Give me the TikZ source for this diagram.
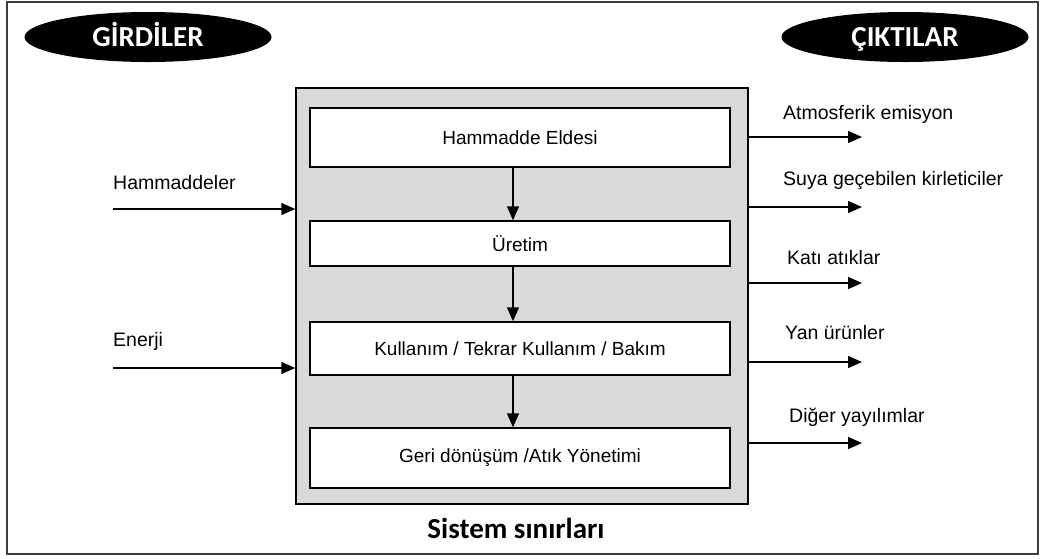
\documentclass[tikz,border=0pt]{standalone}
\usepackage{fontspec}
\setmainfont{Liberation Sans}
\newfontfamily\headfont{Carlito}
\usetikzlibrary{shapes.geometric,arrows.meta}
\definecolor{sysgray}{RGB}{217,217,217}
\definecolor{framegray}{RGB}{60,60,60}
\tikzset{
  stagebox/.style={draw, line width=1.5pt, fill=white, minimum width=420pt, inner sep=0pt,
    font=\fontsize{19}{22}\selectfont},
  flow/.style={line width=1.5pt, -{Triangle[length=14pt,width=12pt]}},
  tag/.style={anchor=west, inner sep=0pt, font=\fontsize{19.5}{22}\selectfont},
  header/.style={ellipse, fill=black, minimum width=247pt, minimum height=50pt, inner sep=0pt,
    text height=18.7pt, text depth=0pt,
    text=white, font=\headfont\bfseries\fontsize{29}{32}\selectfont}
}
\begin{document}
\begin{tikzpicture}[x=1pt,y=-1pt]
\useasboundingbox (0,0) rectangle (1049,558);
\draw[framegray, line width=2pt] (7,2) rectangle (1038,554);
% system boundary
\node[draw, line width=1.5pt, fill=sysgray, minimum width=452pt, minimum height=416pt, inner sep=0pt]
    (sys) at (522,296) {};
\node[header] (gir) at (148,37) {GİRDİLER};
\node[header] (cik) at (905,37) {ÇIKTILAR};
% stages
\node[stagebox, minimum height=59pt] (ham) at (520,137.5) {Hammadde Eldesi};
\node[stagebox, minimum height=45pt] (ure) at (520,243.5) {Üretim};
\node[stagebox, minimum height=53pt] (kul) at (520,348.5) {Kullanım / Tekrar Kullanım / Bakım};
\node[stagebox, minimum height=60pt] (ger) at (520,458) {Geri dönüşüm /Atık Yönetimi};
\coordinate (axis) at (513,0);
\draw[flow] (ham.south -| axis) -- (ure.north -| axis);
\draw[flow] (ure.south -| axis) -- (kul.north -| axis);
\draw[flow] (kul.south -| axis) -- (ger.north -| axis);
% inputs
\coordinate (in1) at (113,209);
\coordinate (in2) at (113,368);
\draw[flow] (in1) -- (in1 -| sys.west);
\draw[flow] (in2) -- (in2 -| sys.west);
\node[tag] (l-in1) at (113,183) {Hammaddeler};
\node[tag] (l-in2) at (113,341) {Enerji};
% outputs
\coordinate (out1) at (862,137);
\coordinate (out2) at (862,207);
\coordinate (out3) at (862,283);
\coordinate (out4) at (862,362);
\coordinate (out5) at (862,443);
\foreach \o in {out1,out2,out3,out4,out5}
  \draw[flow] (\o -| sys.east) -- (\o);
\node[tag] (l-out1) at (783,114) {Atmosferik emisyon};
\node[tag] (l-out2) at (783,180) {Suya geçebilen kirleticiler};
\node[tag] (l-out3) at (787,258) {Katı atıklar};
\node[tag] (l-out4) at (785,333) {Yan ürünler};
\node[tag] (l-out5) at (789,417) {Diğer yayılımlar};
\node[font=\headfont\bfseries\fontsize{29}{32}\selectfont] (sinir) at (516,528) {Sistem sınırları};
\end{tikzpicture}
\end{document}
